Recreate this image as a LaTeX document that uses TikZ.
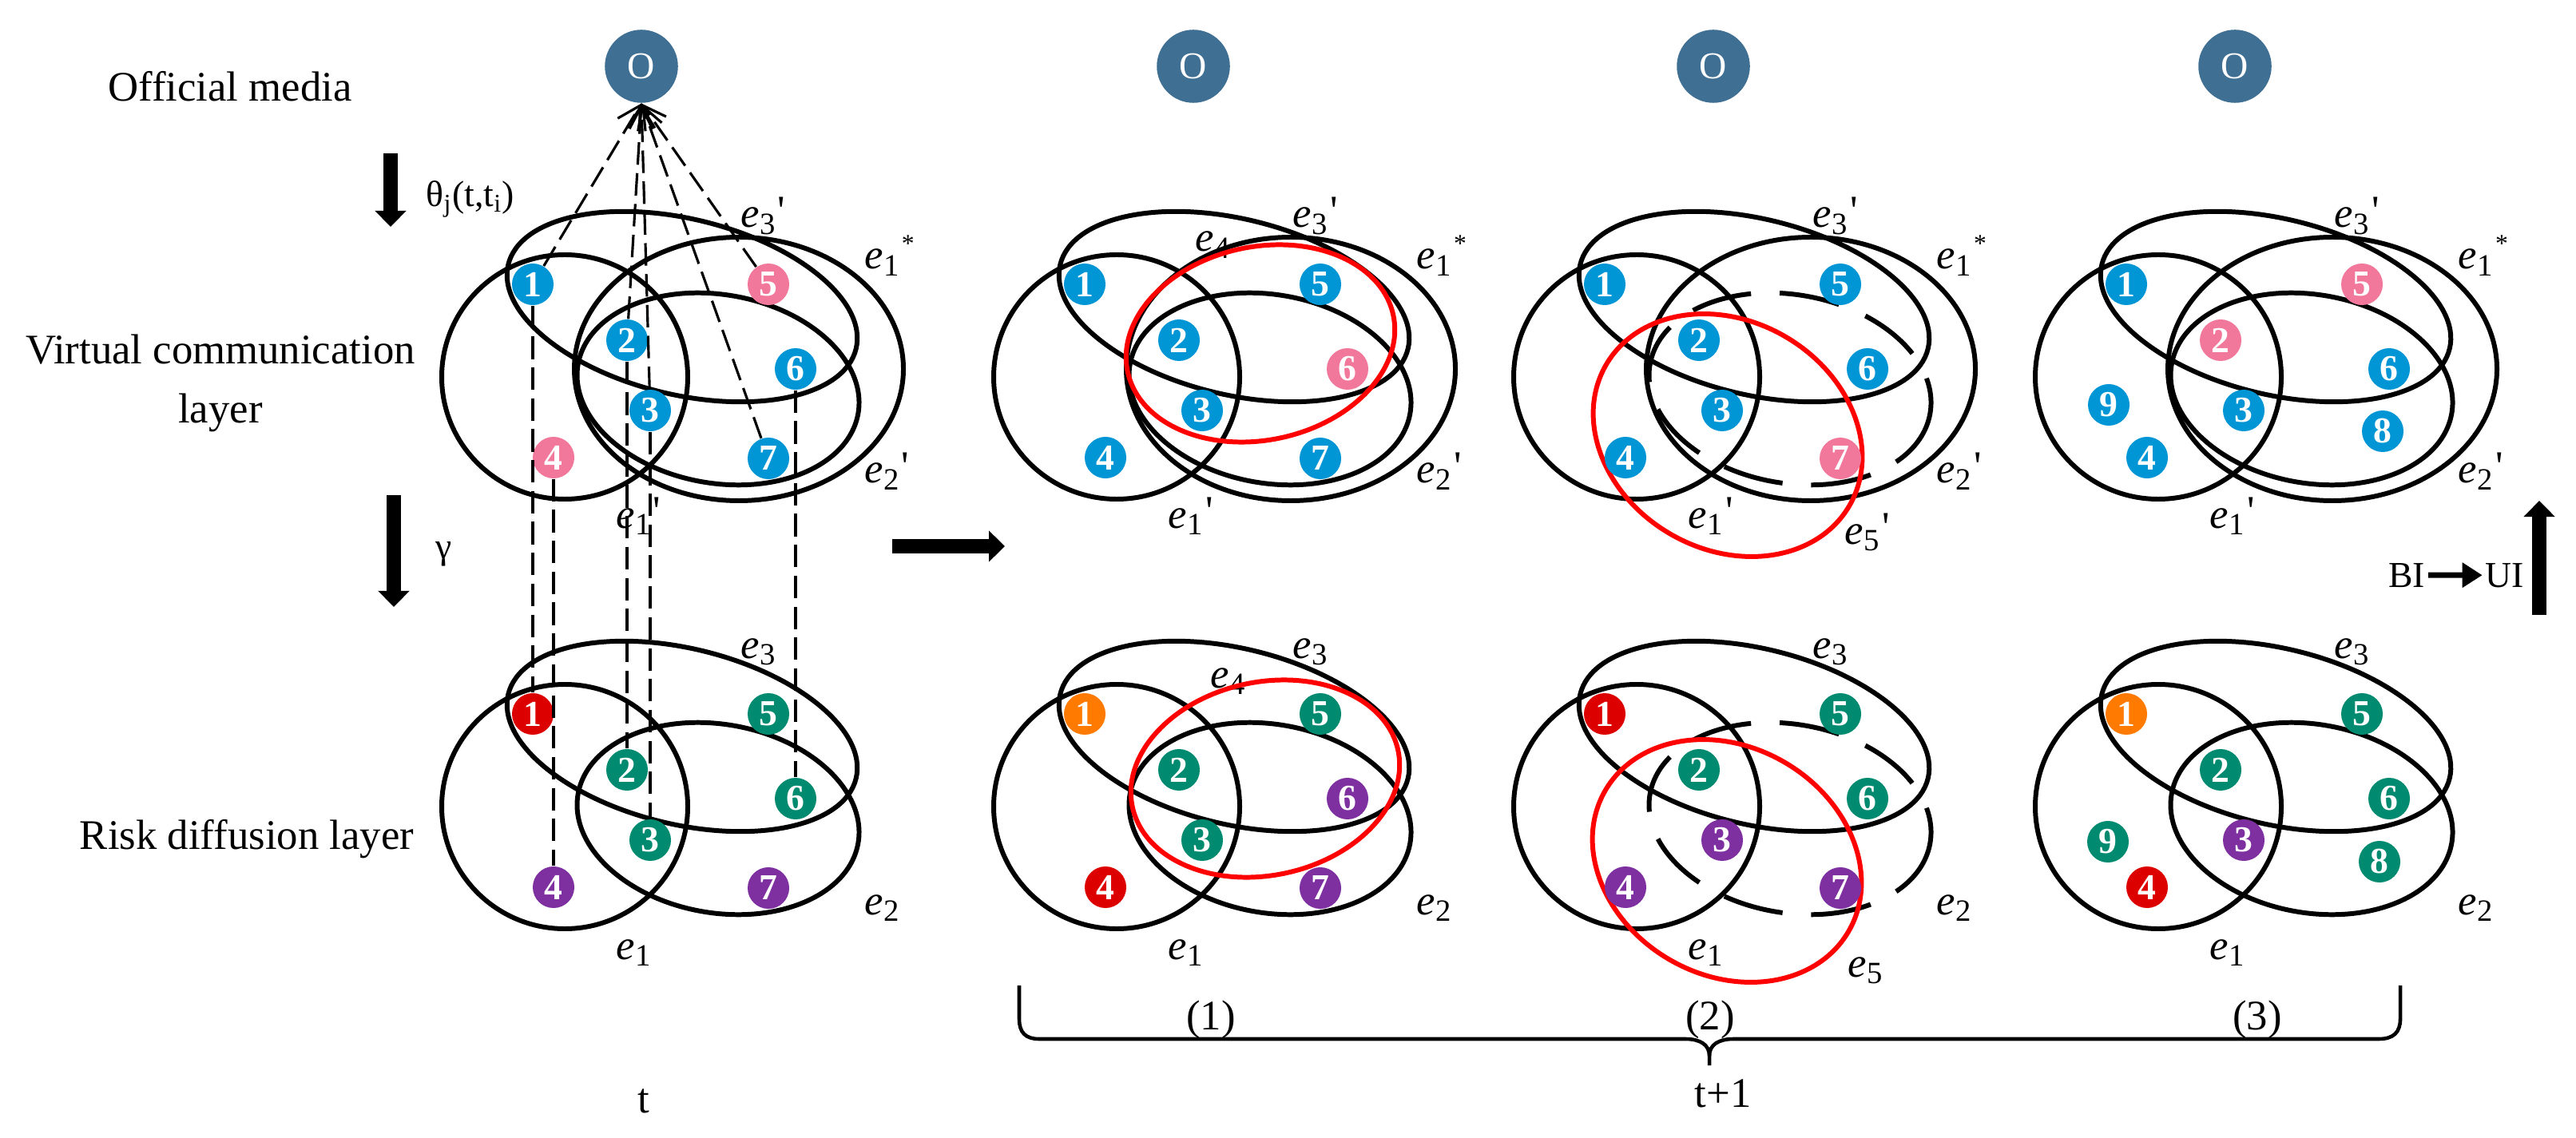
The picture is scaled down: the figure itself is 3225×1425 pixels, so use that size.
\documentclass[tikz,border=0pt]{standalone}
\usepackage{fontspec}
\setmainfont{Liberation Serif}
\usetikzlibrary{arrows.meta}
\definecolor{cblue}{HTML}{0096D6}
\definecolor{cpink}{HTML}{F2789B}
\definecolor{cred}{HTML}{DD0000}
\definecolor{cteal}{HTML}{008A70}
\definecolor{cpurple}{HTML}{7F30A0}
\definecolor{corange}{HTML}{FF7A00}
\definecolor{cmedia}{HTML}{3F7094}

\newcommand{\ee}[1]{\textit{e}\raisebox{-2.5pt}{\fontsize{11}{11}\selectfont #1}}
\newcommand{\pr}{\rlap{\hspace{1pt}\raisebox{1pt}{\textquotesingle}}}
\newcommand{\st}{\rlap{\hspace{1pt}\raisebox{6pt}{\fontsize{9}{9}\selectfont *}}}
\newcommand{\nd}[5]{\node[num,fill=#4] (#1) at (#2,#3) {#5};}
\newcommand{\EA}[1][]{\draw[hyper,#1] (707,472) ellipse[x radius=154, y radius=153];}
\newcommand{\EC}[1][]{\draw[hyper,rotate around={-13.6:(854,384)},#1] (854,384) ellipse[x radius=224, y radius=110];}
\newcommand{\EB}[1][]{\draw[hyper,rotate around={-10:(899,487)},#1] (899,487) ellipse[x radius=178, y radius=118];}
\newcommand{\ES}[1][]{\draw[hyper,#1] (925,462) ellipse[x radius=206, y radius=165];}

\tikzset{
 hyper/.style={line width=1.7pt},
 redhyper/.style={line width=1.7pt, draw=red},
 dashhyper/.style={dash pattern=on 21.6pt off 10.2pt},
 num/.style={circle, inner sep=0pt, minimum size=0.52cm, text=white, font=\fontsize{13}{13}\selectfont\bfseries},
 media/.style={circle, inner sep=0pt, minimum size=0.915cm, fill=cmedia, text=white, font=\fontsize{13.5}{13.5}\selectfont},
 elabel/.style={anchor=base west, inner sep=0pt, font=\fontsize{15}{15}\selectfont},
 bigtext/.style={inner sep=0pt, font=\fontsize{15}{21}\selectfont},
 smalltext/.style={inner sep=0pt, font=\fontsize{13}{13}\selectfont},
 link/.style={line width=0.9pt, dash pattern=on 8pt off 3pt},
 tomedia/.style={link, -{Straight Barb[length=8pt,width=9pt]}},
 fatarrow/.style={line width=0.175cm, -{Triangle[length=0.2cm,width=0.38cm]}},
 bracepath/.style={line width=1.3pt},
}

\begin{document}
\begin{tikzpicture}[x=0.01cm, y=-0.01cm]
\useasboundingbox (0,0) rectangle (3225,1425);

% ---------- left texts ----------
\node[bigtext, anchor=base] (lblmedia) at (288,127) {Official media};
\node[bigtext, align=center] (lblvirt) at (276,480) {Virtual communication\\layer};
\node[bigtext, anchor=base] (lblrisk) at (309,1063) {Risk diffusion layer};
\node[smalltext, anchor=base west] (lbltheta) at (533,259) {θ\textsubscript{j}(t,t\textsubscript{i})};
\node[smalltext, anchor=base west] (lblgamma) at (545,699) {γ};
\coordinate (th1) at (489,192); \coordinate (th2) at (489,284);
\draw[fatarrow] (th1) -- (th2);
\coordinate (ga1) at (493,620); \coordinate (ga2) at (493,760);
\draw[fatarrow] (ga1) -- (ga2);

% ================= PANEL 1 =================
\node[media] (o1) at (803,83) {O};
\node[elabel] (p1ue3) at (927,285) {\ee{3}\pr};
\node[elabel] (p1ues) at (1082,337) {\ee{1}\st};
\node[elabel] (p1ue2) at (1082,605) {\ee{2}\pr};
\node[elabel] (p1ue1) at (771,661) {\ee{1}\pr};
\EA \EC \EB \ES
\nd{p1u1}{667}{356}{cblue}{1}
\nd{p1u2}{785}{426}{cblue}{2}
\nd{p1u3}{814}{514}{cblue}{3}
\nd{p1u4}{693}{573}{cpink}{4}
\nd{p1u5}{962}{356}{cpink}{5}
\nd{p1u6}{996}{462}{cblue}{6}
\nd{p1u7}{962}{574}{cblue}{7}
\begin{scope}[shift={(0,538)}]
\node[elabel] (p1le3) at (927,286) {\ee{3}};
\node[elabel] (p1le2) at (1082,607) {\ee{2}};
\node[elabel] (p1le1) at (771,663) {\ee{1}};
\EA \EC \EB
\nd{p1l1}{667}{356}{cred}{1}
\nd{p1l2}{785}{426}{cteal}{2}
\nd{p1l3}{814}{514}{cteal}{3}
\nd{p1l4}{693}{573}{cpurple}{4}
\nd{p1l5}{962}{356}{cteal}{5}
\nd{p1l6}{996}{462}{cteal}{6}
\nd{p1l7}{962}{574}{cpurple}{7}
\end{scope}
\foreach \i in {1,2,3,4,6} {\draw[link] (p1u\i) -- (p1l\i);}
\foreach \i in {1,2,3,5,7} {\draw[tomedia] (p1u\i) -- (o1.south);}

% ================= PANEL 2 =================
\begin{scope}[shift={(691,0)}]
\node[media] (o2) at (803,83) {O};
\node[elabel] (p2ue3) at (927,285) {\ee{3}\pr};
\node[elabel] (p2ues) at (1082,337) {\ee{1}\st};
\node[elabel] (p2ue2) at (1082,605) {\ee{2}\pr};
\node[elabel] (p2ue1) at (771,661) {\ee{1}\pr};
\node[elabel] (p2ue4) at (805,315) {\ee{4}};
\EA \EC \EB \ES
\draw[redhyper, rotate around={12:(887,430)}] (887,430) ellipse[x radius=170, y radius=121];
\nd{p2u1}{667}{356}{cblue}{1}
\nd{p2u2}{785}{426}{cblue}{2}
\nd{p2u3}{814}{514}{cblue}{3}
\nd{p2u4}{693}{573}{cblue}{4}
\nd{p2u5}{962}{356}{cblue}{5}
\nd{p2u6}{996}{462}{cpink}{6}
\nd{p2u7}{962}{574}{cblue}{7}
\begin{scope}[shift={(0,538)}]
\node[elabel] (p2le3) at (927,286) {\ee{3}};
\node[elabel] (p2le2) at (1082,607) {\ee{2}};
\node[elabel] (p2le1) at (771,663) {\ee{1}};
\node[elabel] (p2le4) at (824,323) {\ee{4}};
\EA \EC \EB
\draw[redhyper, rotate around={12:(893,437)}] (893,437) ellipse[x radius=170, y radius=121];
\nd{p2l1}{667}{356}{corange}{1}
\nd{p2l2}{785}{426}{cteal}{2}
\nd{p2l3}{814}{514}{cteal}{3}
\nd{p2l4}{693}{573}{cred}{4}
\nd{p2l5}{962}{356}{cteal}{5}
\nd{p2l6}{996}{462}{cpurple}{6}
\nd{p2l7}{962}{574}{cpurple}{7}
\end{scope}
\end{scope}

% ================= PANEL 3 =================
\begin{scope}[shift={(1342,0)}]
\node[media] (o3) at (803,83) {O};
\node[elabel] (p3ue3) at (927,285) {\ee{3}\pr};
\node[elabel] (p3ues) at (1082,337) {\ee{1}\st};
\node[elabel] (p3ue2) at (1082,605) {\ee{2}\pr};
\node[elabel] (p3ue1) at (771,661) {\ee{1}\pr};
\node[elabel] (p3ue5) at (967,681) {\ee{5}\pr};
\EA \EC \EB[dashhyper] \ES
\draw[redhyper, rotate around={-30:(821,545)}] (821,545) ellipse[x radius=176, y radius=143];
\nd{p3u1}{667}{356}{cblue}{1}
\nd{p3u2}{785}{426}{cblue}{2}
\nd{p3u3}{814}{514}{cblue}{3}
\nd{p3u4}{693}{573}{cblue}{4}
\nd{p3u5}{962}{356}{cblue}{5}
\nd{p3u6}{996}{462}{cblue}{6}
\nd{p3u7}{962}{574}{cpink}{7}
\begin{scope}[shift={(0,538)}]
\node[elabel] (p3le3) at (927,286) {\ee{3}};
\node[elabel] (p3le2) at (1082,607) {\ee{2}};
\node[elabel] (p3le1) at (771,663) {\ee{1}};
\node[elabel] (p3le5) at (971,685) {\ee{5}};
\EA \EC \EB[dashhyper]
\draw[redhyper, rotate around={-30:(820,540)}] (820,540) ellipse[x radius=176, y radius=143];
\nd{p3l1}{667}{356}{cred}{1}
\nd{p3l2}{785}{426}{cteal}{2}
\nd{p3l3}{814}{514}{cpurple}{3}
\nd{p3l4}{693}{573}{cpurple}{4}
\nd{p3l5}{962}{356}{cteal}{5}
\nd{p3l6}{996}{462}{cteal}{6}
\nd{p3l7}{962}{574}{cpurple}{7}
\end{scope}
\end{scope}

% ================= PANEL 4 =================
\begin{scope}[shift={(1995,0)}]
\node[media] (o4) at (803,83) {O};
\node[elabel] (p4ue3) at (927,285) {\ee{3}\pr};
\node[elabel] (p4ues) at (1082,337) {\ee{1}\st};
\node[elabel] (p4ue2) at (1082,605) {\ee{2}\pr};
\node[elabel] (p4ue1) at (771,661) {\ee{1}\pr};
\EA \EC \EB \ES
\nd{p4u1}{667}{356}{cblue}{1}
\nd{p4u2}{785}{426}{cpink}{2}
\nd{p4u3}{814}{514}{cblue}{3}
\nd{p4u4}{693}{573}{cblue}{4}
\nd{p4u5}{962}{356}{cpink}{5}
\nd{p4u6}{996}{462}{cblue}{6}
\nd{p4u8}{988}{540}{cblue}{8}
\nd{p4u9}{645}{507}{cblue}{9}
\begin{scope}[shift={(0,538)}]
\node[elabel] (p4le3) at (927,286) {\ee{3}};
\node[elabel] (p4le2) at (1082,607) {\ee{2}};
\node[elabel] (p4le1) at (771,663) {\ee{1}};
\EA \EC \EB
\nd{p4l1}{667}{356}{corange}{1}
\nd{p4l2}{785}{426}{cteal}{2}
\nd{p4l3}{814}{514}{cpurple}{3}
\nd{p4l4}{693}{573}{cred}{4}
\nd{p4l5}{962}{356}{cteal}{5}
\nd{p4l6}{996}{462}{cteal}{6}
\nd{p4l8}{984}{541}{cteal}{8}
\nd{p4l9}{644}{516}{cteal}{9}
\end{scope}
\end{scope}

% ---------- transition arrow ----------
\coordinate (ra1) at (1117,684); \coordinate (ra2) at (1258,684);
\draw[fatarrow] (ra1) -- (ra2);

% ---------- BI -> UI ----------
\node[smalltext, anchor=base, inner sep=1pt] (bi) at (3013,735) {BI};
\node[smalltext, anchor=base, inner sep=1pt] (ui) at (3136,735) {UI};
\draw[line width=2pt, -{Triangle[length=0.25cm,width=0.3cm]}] (bi) -- (ui);
\coordinate (ua1) at (3179,770); \coordinate (ua2) at (3179,627);
\draw[fatarrow] (ua1) -- (ua2);

% ---------- brace ----------
\draw[bracepath] (1276,1234) -- (1276,1276) .. controls (1276,1293) and (1284,1301) .. (1301,1301) -- (2110,1301) .. controls (2128,1301) and (2140,1308) .. (2140,1322) -- (2140,1334);
\draw[bracepath] (2140,1322) .. controls (2140,1308) and (2152,1301) .. (2170,1301) -- (2978,1301) .. controls (2996,1301) and (3005,1293) .. (3005,1276) -- (3005,1234);
\node[bigtext, anchor=base] (lbl1) at (1516,1289) {(1)};
\node[bigtext, anchor=base] (lbl2) at (2141,1289) {(2)};
\node[bigtext, anchor=base] (lbl3) at (2826,1289) {(3)};

% ---------- time labels ----------
\node[bigtext, anchor=base] (lblt) at (806,1393) {t};
\node[bigtext, anchor=base] (lbltp) at (2157,1386) {t+1};
\end{tikzpicture}
\end{document}
